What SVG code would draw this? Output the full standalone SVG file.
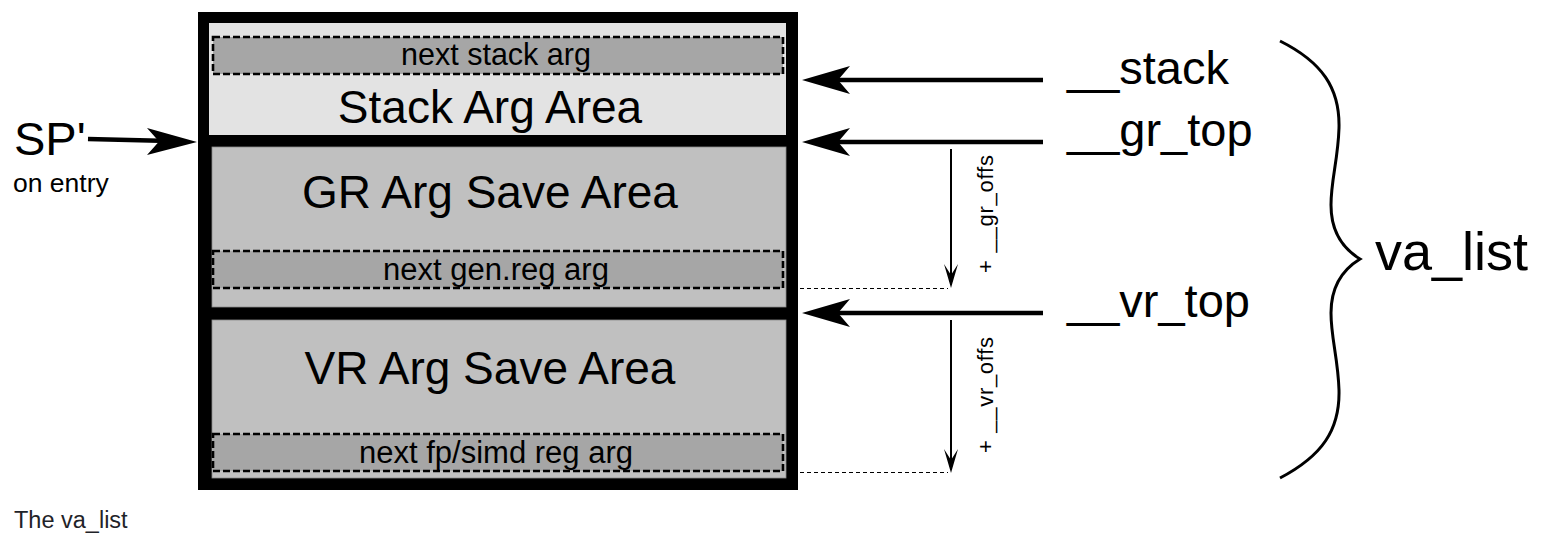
<svg xmlns="http://www.w3.org/2000/svg" width="1542" height="540" viewBox="0 0 1542 540">
<style>
text{font-family:"Liberation Sans",Arial,Helvetica,sans-serif;fill:#000}
.big{font-size:46px;text-anchor:middle}
.small{font-size:31px;text-anchor:middle}
.ptr{font-size:47px}
.dash{fill:#a6a6a6;stroke:#000;stroke-width:2.6;stroke-dasharray:7 3}
.thick{stroke:#000;stroke-width:4.5;fill:none}
.thin{stroke:#000;stroke-width:2;fill:none}
.dot{stroke:#000;stroke-width:1;stroke-dasharray:4 3;fill:none}
</style>
<rect width="1542" height="540" fill="#fff"/>
<g id="frame"><rect x="198" y="12" width="600" height="478" fill="#000"/></g>
<g id="stack-area">
<rect x="209" y="23" width="577" height="112" fill="#e3e3e3"/>
<rect class="dash" x="213" y="37" width="570" height="37"/>
<text class="small" x="496" y="65" style="font-size:30.5px">next stack arg</text>
<text class="big" x="490" y="123">Stack Arg Area</text>
</g>
<g id="gr-area">
<rect x="212" y="147" width="574" height="160" fill="#c0c0c0" stroke="#8a8a8a" stroke-width="0.8"/>
<text class="big" x="490" y="208">GR Arg Save Area</text>
<rect class="dash" x="213" y="251" width="570" height="37"/>
<text class="small" x="496" y="280">next gen.reg arg</text>
</g>
<g id="vr-area">
<rect x="212" y="320" width="574" height="158" fill="#c0c0c0" stroke="#8a8a8a" stroke-width="0.8"/>
<text class="big" x="490" y="384">VR Arg Save Area</text>
<rect class="dash" x="213" y="434" width="570" height="37"/>
<text class="small" x="496" y="463">next fp/simd reg arg</text>
</g>
<g id="sp">
<text x="14" y="155" style="font-size:47px">SP'</text>
<text x="13" y="192" style="font-size:26.5px">on entry</text>
</g>
<g id="labels">
<text class="ptr" x="1067" y="84">__stack</text>
<text class="ptr" x="1067" y="146">__gr_top</text>
<text class="ptr" x="1067" y="317">__vr_top</text>
<text x="1375" y="270" style="font-size:54px">va_list</text>
<text x="993" y="214" transform="rotate(-90 993 214)" style="font-size:22px;text-anchor:middle" textLength="118" lengthAdjust="spacing">+ __gr_offs</text>
<text x="993" y="395" transform="rotate(-90 993 395)" style="font-size:22px;text-anchor:middle" textLength="116" lengthAdjust="spacing">+ __vr_offs</text>
</g>
<g id="connectors">
<line class="thick" x1="1043" y1="80" x2="830" y2="80"/>
<polygon points="802,80 850,66 838,80 850,94"/>
<line class="thick" x1="1043" y1="142" x2="830" y2="142"/>
<polygon points="802,142 850,128 838,142 850,156"/>
<line class="thick" x1="1043" y1="313" x2="830" y2="313"/>
<polygon points="802,313 850,299 838,313 850,327"/>
<line class="thick" x1="88" y1="139" x2="170" y2="141"/>
<polygon points="197,142 147,128 159,141.5 147,155"/>
<line class="thin" x1="951" y1="149" x2="951" y2="276"/>
<polygon points="951,288 944,264 951,275 958,264"/>
<line class="thin" x1="951" y1="320" x2="951" y2="460"/>
<polygon points="951,473 944,449 951,460 958,449"/>
<line class="dot" x1="800" y1="288.5" x2="948" y2="288.5"/>
<line class="dot" x1="800" y1="472.5" x2="948" y2="472.5"/>
<path class="thin" style="stroke-width:3" d="M1280,41 C1322,62 1340,88 1339,128 C1338,160 1331,180 1331,205 C1331,230 1342,248 1360,259 C1342,270 1331,288 1331,313 C1331,338 1338,358 1339,390 C1340,430 1322,456 1280,478"/>
</g>
<text x="14" y="528" style="font-size:23.5px;fill:#1f2328">The va_list</text>
</svg>
